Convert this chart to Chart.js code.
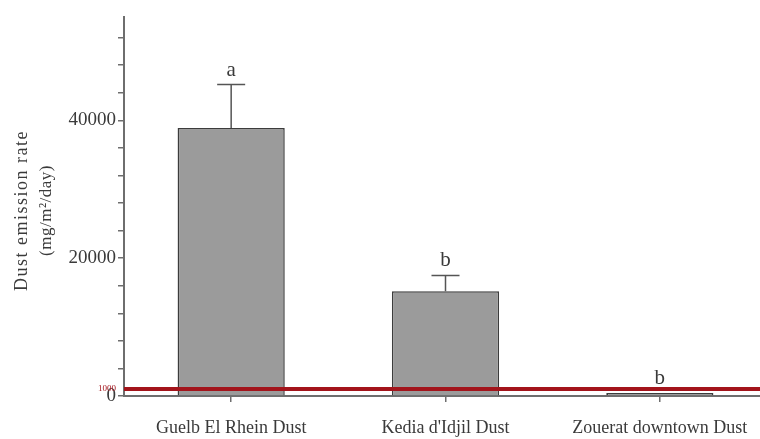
<!DOCTYPE html>
<html>
<head>
<meta charset="utf-8">
<script src="https://cdn.jsdelivr.net/npm/chart.js@4.4.1/dist/chart.umd.min.js"></script>
<style>
  html, body { margin: 0; padding: 0; background: #fff; overflow: hidden; }
  #wrap { width: 768px; height: 439px; }
</style>
</head>
<body>
<div id="wrap"><canvas id="c" width="768" height="439"></canvas></div>
<script>
// Dust emission rate per site (mg/m²/day)
const categories = ['Guelb El Rhein Dust', "Kedia d'Idjil Dust", 'Zouerat downtown Dust'];
const meanValues = [38900, 15200, 450];
const errorValues = [6300, 2300, 0];
const groupLetters = ['a', 'b', 'b'];
const thresholdValue = 1000;
const yTickValues = [0, 4000, 8000, 12000, 16000, 20000, 24000, 28000, 32000, 36000, 40000, 44000, 48000, 52000];
const yLabelValues = [0, 20000, 40000];

const SERIF = '"Liberation Serif", "DejaVu Serif", serif';
const TEXT = '#3a3a3a';
const AXIS = '#6e6e6e';
const RED = '#a3141b';

const overlay = {
  id: 'overlay',
  afterDatasetsDraw(chart) {
    const { ctx, chartArea, scales: { x, y } } = chart;
    ctx.save();
    // error bars (upper half) and significance letters
    meanValues.forEach((m, i) => {
      const cx = x.getPixelForValue(i);
      const top = y.getPixelForValue(m);
      const errTop = y.getPixelForValue(m + errorValues[i]);
      if (errorValues[i] > 0) {
        ctx.strokeStyle = '#555';
        ctx.lineWidth = 1.5;
        ctx.beginPath();
        ctx.moveTo(cx, top);
        ctx.lineTo(cx, errTop);
        ctx.moveTo(cx - 14, errTop);
        ctx.lineTo(cx + 14, errTop);
        ctx.stroke();
      }
      ctx.fillStyle = TEXT;
      ctx.font = '21px ' + SERIF;
      ctx.textAlign = 'center';
      ctx.textBaseline = 'alphabetic';
      ctx.fillText(groupLetters[i], cx, errTop - 9);
    });
    // threshold line
    const ty = y.getPixelForValue(thresholdValue);
    ctx.strokeStyle = RED;
    ctx.lineWidth = 4;
    ctx.beginPath();
    ctx.moveTo(chartArea.left, ty);
    ctx.lineTo(chart.width, ty);
    ctx.stroke();
    // y axis title
    ctx.fillStyle = TEXT;
    ctx.textAlign = 'center';
    ctx.textBaseline = 'middle';
    const cy = (chartArea.top + chartArea.bottom) / 2 + 4;
    ctx.translate(0, cy);
    ctx.rotate(-Math.PI / 2);
    ctx.font = '18px ' + SERIF;
    ctx.letterSpacing = '1.5px';
    ctx.fillText('Dust emission rate', 0, 22);
    ctx.letterSpacing = '0.5px';
    ctx.font = '17px ' + SERIF;
    ctx.fillText('(mg/m²/day)', 0, 47);
    ctx.restore();
  }
};

new Chart(document.getElementById('c'), {
  type: 'bar',
  data: {
    labels: categories,
    datasets: [{
      data: meanValues,
      backgroundColor: '#9b9b9b',
      borderColor: '#3c3c3c',
      borderWidth: [1.5, 1.5, 2],
      barPercentage: 0.5,
      categoryPercentage: 1
    }]
  },
  options: {
    responsive: false,
    animation: false,
    layout: { padding: { top: 17, right: 1, left: 0, bottom: 0 } },
    plugins: { legend: { display: false }, tooltip: { enabled: false } },
    scales: {
      x: {
        afterFit(s) { s.height = 43; },
        border: { color: AXIS, width: 2 },
        grid: { drawOnChartArea: false, offset: false, tickLength: 6, color: AXIS, lineWidth: 1.5 },
        ticks: { color: TEXT, font: { family: SERIF, size: 18 }, padding: 15, maxRotation: 0 }
      },
      y: {
        min: 0,
        max: 55000,
        afterFit(s) { s.width = 124; },
        afterBuildTicks(s) {
          s.ticks = yTickValues.concat([thresholdValue]).sort((a, b) => a - b).map(v => ({ value: v }));
        },
        border: { color: AXIS, width: 2 },
        grid: {
          drawOnChartArea: false,
          tickLength: 6,
          lineWidth: 1.5,
          color: c => (c.tick && c.tick.value === thresholdValue) ? 'rgba(0,0,0,0)' : AXIS
        },
        ticks: {
          autoSkip: false,
          padding: 2,
          color: c => (c.tick && c.tick.value === thresholdValue) ? RED : TEXT,
          font: c => ({ family: SERIF, size: (c.tick && c.tick.value === thresholdValue) ? 9 : 19 }),
          callback: v => (v === thresholdValue || yLabelValues.includes(v)) ? String(v) : ''
        }
      }
    }
  },
  plugins: [overlay]
});
</script>
</body>
</html>
